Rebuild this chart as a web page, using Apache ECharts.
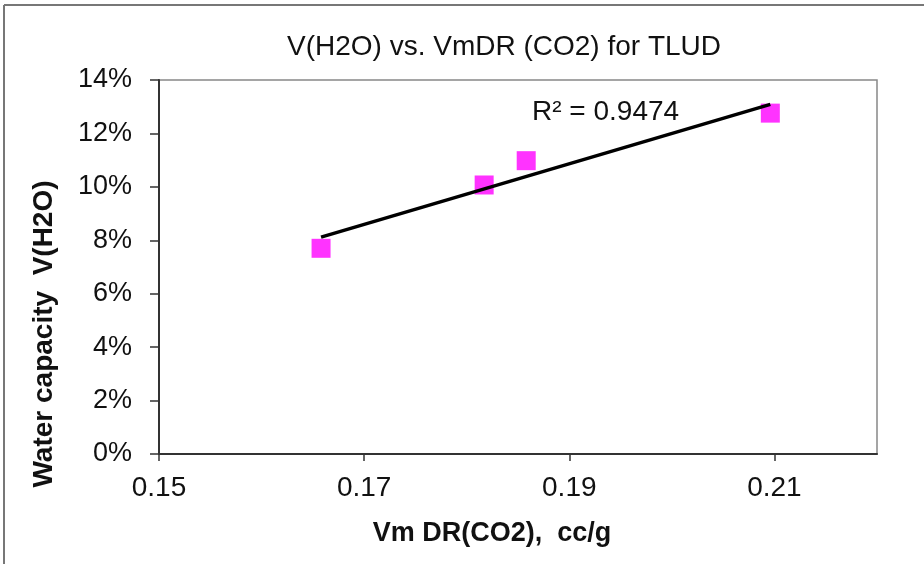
<!DOCTYPE html>
<html>
<head>
<meta charset="utf-8">
<script src="https://cdn.jsdelivr.net/npm/echarts@6/dist/echarts.min.js"></script>
<style>
  html, body { margin: 0; padding: 0; background: #fff; }
  #chart { width: 924px; height: 564px; }
</style>
</head>
<body>
<div id="chart"></div>
<script>
// Micropore volume (Dubinin-Radushkevich, CO2) in cc/g
const vmDR = [0.1658, 0.1817, 0.1858, 0.2096];
// Water capacity V(H2O), percent
const waterCapacity = [7.70, 10.07, 10.98, 12.76];
const xTicks = { min: 0.15, max: 0.22, interval: 0.02 };
const yTicks = { min: 0, max: 14, interval: 2 };
const r2Text = 'R² = 0.9474';

// Least-squares linear trend through the measured points
function linearFit(xs, ys) {
  const n = xs.length;
  const mx = xs.reduce((a, b) => a + b, 0) / n;
  const my = ys.reduce((a, b) => a + b, 0) / n;
  let sxy = 0, sxx = 0;
  for (let i = 0; i < n; i++) {
    sxy += (xs[i] - mx) * (ys[i] - my);
    sxx += (xs[i] - mx) * (xs[i] - mx);
  }
  const slope = sxy / sxx;
  return { slope, intercept: my - slope * mx };
}
const fit = linearFit(vmDR, waterCapacity);
const xMin = Math.min(...vmDR), xMax = Math.max(...vmDR);
const trend = [
  [xMin, fit.intercept + fit.slope * xMin],
  [xMax, fit.intercept + fit.slope * xMax]
];

const font = '"Liberation Sans", Arial, sans-serif';
const chart = echarts.init(document.getElementById('chart'));
chart.setOption({
  animation: false,
  backgroundColor: '#fff',
  title: {
    text: 'V(H2O) vs. VmDR (CO2) for TLUD',
    left: 499, top: 28, textAlign: 'center',
    textStyle: { fontFamily: font, fontSize: 28, fontWeight: 'normal', color: '#111' }
  },
  grid: { left: 159, right: 47, top: 80, bottom: 110, show: true,
          borderColor: '#888', borderWidth: 1.5, backgroundColor: '#fff' },
  xAxis: {
    type: 'value', min: xTicks.min, max: xTicks.max, interval: xTicks.interval,
    axisLine: { show: true, onZero: false, lineStyle: { color: '#333', width: 2 } },
    axisTick: { show: true, length: 7, inside: false, lineStyle: { color: '#333', width: 1.5 } },
    axisLabel: { fontFamily: font, fontSize: 28, color: '#111', margin: 20,
                 showMaxLabel: false,
                 formatter: v => v.toFixed(2) },
    splitLine: { show: false }
  },
  yAxis: {
    type: 'value', min: yTicks.min, max: yTicks.max, interval: yTicks.interval,
    axisLine: { show: true, onZero: false, lineStyle: { color: '#333', width: 2 } },
    axisTick: { show: true, length: 9, inside: false, lineStyle: { color: '#333', width: 1.5 } },
    axisLabel: { fontFamily: font, fontSize: 27, color: '#111', margin: 27,
                 formatter: v => v + '%' },
    splitLine: { show: false }
  },
  graphic: [
    { type: 'line', shape: { x1: 4, y1: 5, x2: 930, y2: 5 }, style: { stroke: '#777', lineWidth: 2 } },
    { type: 'line', shape: { x1: 4, y1: 5, x2: 4, y2: 570 }, style: { stroke: '#777', lineWidth: 2 } },
    // axis titles, placed slightly off the plot centre
    { type: 'text', x: 492, y: 534,
      style: { text: 'Vm DR(CO2),  cc/g', font: 'bold 27px "Liberation Sans", Arial, sans-serif',
               fill: '#111', align: 'center', verticalAlign: 'middle' } },
    { type: 'text', x: 44, y: 334, rotation: Math.PI / 2,
      style: { text: 'Water capacity  V(H2O)', font: 'bold 28px "Liberation Sans", Arial, sans-serif',
               fill: '#111', align: 'center', verticalAlign: 'middle' } },
    { type: 'text', x: 532, y: 112,
      style: { text: r2Text, font: '28px "Liberation Sans", Arial, sans-serif', fill: '#111',
               align: 'left', verticalAlign: 'middle' } }
  ],
  series: [
    {
      type: 'scatter',
      data: vmDR.map((x, i) => [x, waterCapacity[i]]),
      symbol: 'rect', symbolSize: 19,
      itemStyle: { color: '#ff00ff' },
      z: 2
    },
    {
      type: 'line',
      data: trend,
      showSymbol: false, symbol: 'none',
      lineStyle: { color: '#000', width: 3.5 },
      z: 3
    }
  ]
});
</script>
</body>
</html>
